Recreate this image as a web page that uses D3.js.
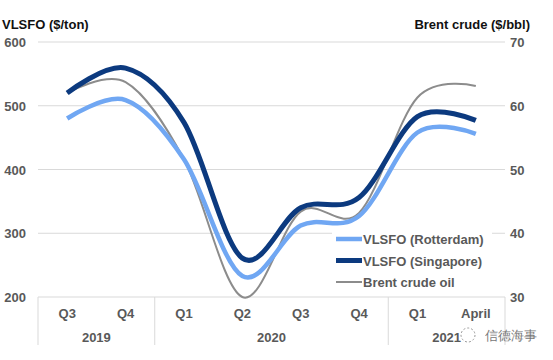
<!DOCTYPE html>
<html>
<head>
<meta charset="utf-8">
<script src="https://cdn.jsdelivr.net/npm/d3@7"></script>
<style>
  body { margin: 0; background: #fff; }
  text { font-family: "Liberation Sans", Arial, sans-serif; }
</style>
</head>
<body>
<script>
// quarters and their year groups
const quarters = ["Q3", "Q4", "Q1", "Q2", "Q3", "Q4", "Q1", "April"];
const years = [
  {label: "2019", from: 0, to: 2},
  {label: "2020", from: 2, to: 6},
  {label: "2021", from: 6, to: 8}
];

const rotterdam = [480, 509, 416, 233, 312, 327, 458, 456];
const singapore = [520, 559, 474, 261, 340, 356, 483, 477];
const brent     = [62.0, 63.7, 51.6, 30.0, 43.4, 43.2, 61.3, 63.1];

const leftTicks = [200, 300, 400, 500, 600];
const rightTicks = [30, 40, 50, 60, 70];

let width = 553, height = 360;
let svg = d3.select("body").append("svg")
            .attr("width", width)
            .attr("height", height);

let x0 = 38, x1 = 505, yTop = 42, yBot = 297;

let x = d3.scaleBand().domain(d3.range(quarters.length)).range([x0, x1]);
let yL = d3.scaleLinear().domain([200, 600]).range([yBot, yTop]);
let yR = d3.scaleLinear().domain([30, 70]).range([yBot, yTop]);
let cx = i => x(i) + x.bandwidth() / 2;

// gridlines
svg.append("g")
   .selectAll("line")
   .data(leftTicks.slice(1))
   .enter().append("line")
   .attr("x1", x0).attr("x2", x1)
   .attr("y1", d => yL(d)).attr("y2", d => yL(d))
   .attr("stroke", "#d9d9d9").attr("stroke-width", 1);

// left axis labels
svg.append("g")
   .selectAll("text")
   .data(leftTicks)
   .enter().append("text")
   .attr("x", 26).attr("y", d => yL(d) + 5)
   .attr("text-anchor", "end")
   .attr("font-size", 13).attr("font-weight", "bold")
   .attr("fill", "#595959")
   .text(d => d);

// right axis labels
svg.append("g")
   .selectAll("text")
   .data(rightTicks)
   .enter().append("text")
   .attr("x", 510).attr("y", d => yR(d) + 5)
   .attr("font-size", 13).attr("font-weight", "bold")
   .attr("fill", "#595959")
   .text(d => d);

// titles
svg.append("text").attr("x", 2).attr("y", 29)
   .attr("font-size", 13).attr("font-weight", "bold").attr("fill", "#111")
   .text("VLSFO ($/ton)");
svg.append("text").attr("x", 530).attr("y", 29).attr("text-anchor", "end")
   .attr("font-size", 13).attr("font-weight", "bold").attr("fill", "#111")
   .text("Brent crude ($/bbl)");

// category axis
let axisG = svg.append("g");
axisG.append("line")
     .attr("x1", x0).attr("x2", x1).attr("y1", yBot).attr("y2", yBot)
     .attr("stroke", "#d9d9d9");
let seps = [0, 2, 6, 8].map(i => i < quarters.length ? x(i) : x1);
axisG.selectAll(".sep")
     .data(seps)
     .enter().append("line")
     .attr("x1", d => d).attr("x2", d => d)
     .attr("y1", yBot).attr("y2", 345)
     .attr("stroke", "#d9d9d9");
axisG.selectAll(".q")
     .data(quarters)
     .enter().append("text")
     .attr("x", (d, i) => cx(i)).attr("y", 318)
     .attr("text-anchor", "middle")
     .attr("font-size", 13).attr("font-weight", "bold").attr("fill", "#595959")
     .text(d => d);
axisG.selectAll(".yr")
     .data(years)
     .enter().append("text")
     .attr("x", d => (x(d.from) + (d.to < quarters.length ? x(d.to) : x1)) / 2)
     .attr("y", 342)
     .attr("text-anchor", "middle")
     .attr("font-size", 13).attr("font-weight", "bold").attr("fill", "#595959")
     .text(d => d.label);

// lines
let curve = d3.curveCardinal.tension(0);
let lineL = d3.line().x((d, i) => cx(i)).y(d => yL(d)).curve(curve);
let lineR = d3.line().x((d, i) => cx(i)).y(d => yR(d)).curve(curve);

svg.append("path").attr("d", lineR(brent))
   .attr("fill", "none").attr("stroke", "#8c8c8c").attr("stroke-width", 2);
svg.append("path").attr("d", lineL(rotterdam))
   .attr("fill", "none").attr("stroke", "#70a7f3").attr("stroke-width", 4.5);
svg.append("path").attr("d", lineL(singapore))
   .attr("fill", "none").attr("stroke", "#0c3a7f").attr("stroke-width", 5);

// legend
let legend = [
  {name: "VLSFO (Rotterdam)", color: "#70a7f3", w: 4.5},
  {name: "VLSFO (Singapore)", color: "#0c3a7f", w: 5},
  {name: "Brent crude oil", color: "#8c8c8c", w: 2}
];
let lg = svg.append("g");
lg.append("rect").attr("x", 332).attr("y", 228).attr("width", 160).attr("height", 64)
  .attr("fill", "#fff");
let rows = lg.selectAll("g").data(legend).enter().append("g")
  .attr("transform", (d, i) => `translate(336, ${239 + i * 21.5})`);
rows.append("line").attr("x1", 0).attr("x2", 26).attr("y1", 0).attr("y2", 0)
  .attr("stroke", d => d.color).attr("stroke-width", d => d.w);
rows.append("text").attr("x", 27).attr("y", 5)
  .attr("font-size", 13).attr("font-weight", "bold").attr("fill", "#595959")
  .text(d => d.name);

// watermark
svg.append("text").attr("x", 485).attr("y", 340)
   .attr("font-family", "Noto Sans CJK SC").attr("font-size", 13)
   .attr("fill", "#555").attr("opacity", 0.8)
   .text("信德海事");
svg.append("circle").attr("cx", 468).attr("cy", 335).attr("r", 7)
   .attr("fill", "none").attr("stroke", "#999").attr("stroke-dasharray", "2,2");
</script>
</body>
</html>
